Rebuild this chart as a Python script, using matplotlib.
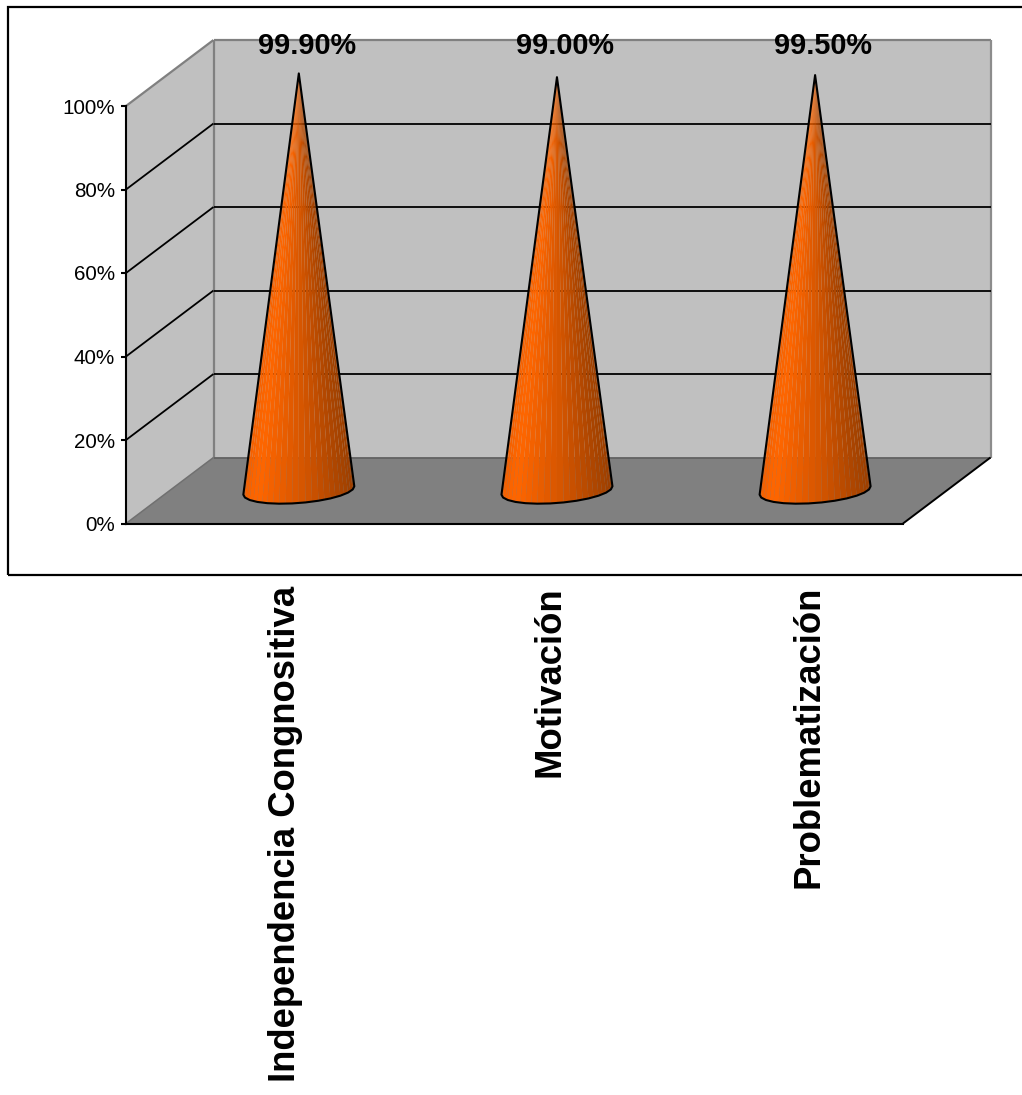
import numpy as np
import matplotlib
matplotlib.use("Agg")
import matplotlib.pyplot as plt
from matplotlib.colors import LinearSegmentedColormap
from matplotlib.collections import PolyCollection
from matplotlib.patches import Polygon, Rectangle
from matplotlib.ticker import PercentFormatter

categories = ["Independencia Congnositiva", "Motivación", "Problematización"]
values = [99.9, 99.0, 99.5]
value_labels = ["99.90%", "99.00%", "99.50%"]
y_ticks = [0, 20, 40, 60, 80, 100]

W, H = 1022, 1095
plt.rcParams["font.family"] = ["Liberation Sans", "DejaVu Sans"]

# oblique depth of the box, in axis units
XMAX = 3.01
DX = 87.5 / (777.0 / XMAX)
DY = 66.0 / 4.175
# cone base: radius across the categories and half depth of the box
RADIUS = 0.204
RDEPTH = 0.2

fig = plt.figure(figsize=(W / 100, H / 100), dpi=100)
ax = fig.add_axes([126 / W, 1 - 523.5 / H, 777 / W, 417.5 / H])
ax.set_xlim(0, XMAX)
ax.set_ylim(0, 100)
ax.patch.set_visible(False)


def oblique(x, v, z):
    return x + z * DX, v + z * DY


def edge(p0, p1, color, lw=1.3, zorder=2):
    ax.plot(*zip(oblique(*p0), oblique(*p1)), color=color, lw=lw, zorder=zorder,
            clip_on=False, solid_capstyle="butt")


# frame around the chart area, runs off the right side
fig.add_artist(Rectangle((8 / W, 1 - 574.5 / H), 1.02, 567.5 / H, fill=False,
                         ec="black", lw=1.6, transform=fig.transFigure))

# walls and floor
faces = [
    ([(0, 0, 1), (XMAX, 0, 1), (XMAX, 100, 1), (0, 100, 1)], "#C0C0C0"),
    ([(0, 0, 0), (0, 0, 1), (0, 100, 1), (0, 100, 0)], "#C0C0C0"),
    ([(0, 0, 0), (XMAX, 0, 0), (XMAX, 0, 1), (0, 0, 1)], "#808080"),
]
for corners, color in faces:
    ax.add_patch(Polygon([oblique(*c) for c in corners], fc=color, ec="none",
                         zorder=1, clip_on=False))

# box outline
edge((0, 100, 0), (0, 100, 1), "#808080", 1.6)
edge((0, 100, 1), (XMAX, 100, 1), "#808080", 1.6)
edge((0, 0, 1), (0, 100, 1), "#808080", 1.6)
edge((XMAX, 0, 1), (XMAX, 100, 1), "#8C8C8C", 1.6)
edge((0, 0, 0), (0, 0, 1), "#707070", 1.1)
edge((0, 0, 1), (XMAX, 0, 1), "#606060", 1.2)
edge((XMAX, 0, 0), (XMAX, 0, 1), "black", 1.4)

# gridlines on the two walls
for t in y_ticks[1:-1]:
    edge((0, t, 0), (0, t, 1), "black", 1.3)
    edge((0, t, 1), (XMAX, t, 1), "black", 1.3)

shade = LinearSegmentedColormap.from_list(
    "cone", [(0, "#F26000"), (0.12, "#FF6600"), (0.55, "#D45500"), (1, "#9C3F00")])

# each cone is a fan of flat facets from the base polygon up to the tip
for i, val in enumerate(values):
    cx = i + 0.5
    tip = oblique(cx, val, 0.5)
    bx, by = oblique(cx, 0, 0.5)
    start = np.arctan2(RDEPTH * DX, RADIUS)
    angles = np.linspace(start, start - np.pi, 14)
    px = bx + RADIUS * np.cos(angles) + RDEPTH * DX * np.sin(angles)
    py = by + RDEPTH * DY * np.sin(angles)
    rim = np.column_stack([px, py])

    # split every base segment so the shading stays finer than the outline
    fine = np.arange(0, len(rim) - 1 + 1e-9, 1 / 2)
    fx = np.interp(fine, np.arange(len(rim)), px)
    fy = np.interp(fine, np.arange(len(rim)), py)
    facets = [[tip, (fx[k], fy[k]), (fx[k + 1], fy[k + 1])] for k in range(len(fx) - 1)]
    mids = (fx[:-1] + fx[1:]) / 2
    u = (mids - px.min()) / (px.max() - px.min())
    ax.add_collection(PolyCollection(facets, facecolors=shade(u), edgecolors="none",
                                     zorder=3, clip_on=False))
    ax.add_patch(Polygon([tip] + [tuple(p) for p in rim], closed=True, fill=False,
                         ec="black", lw=1.5, zorder=4, clip_on=False, joinstyle="round"))

    ax.annotate(value_labels[i], oblique(cx, 100, 0.5), xytext=(6, 19.5),
                textcoords="offset points", ha="center", va="center",
                fontsize=20.8, fontweight="bold", zorder=5, annotation_clip=False)

# category names hang below the floor, turned on their side
name_shift = [30, 37, 38]
for i, name in enumerate(categories):
    ax.annotate(name, (i + 0.5, 0), xytext=(name_shift[i] * 0.72, -45),
                textcoords="offset points", ha="center", va="top", rotation=90,
                fontsize=26.3, fontweight="bold", annotation_clip=False)

for side in ["top", "right"]:
    ax.spines[side].set_visible(False)
for side in ["left", "bottom"]:
    ax.spines[side].set_linewidth(1.5)
    ax.spines[side].set_zorder(3)
ax.set_xticks([])
ax.set_yticks(y_ticks)
ax.yaxis.set_major_formatter(PercentFormatter(decimals=0))
ax.tick_params(axis="y", length=3.6, width=1.5, pad=4.2, labelsize=14.9)

fig.savefig("out.png", dpi=100)
